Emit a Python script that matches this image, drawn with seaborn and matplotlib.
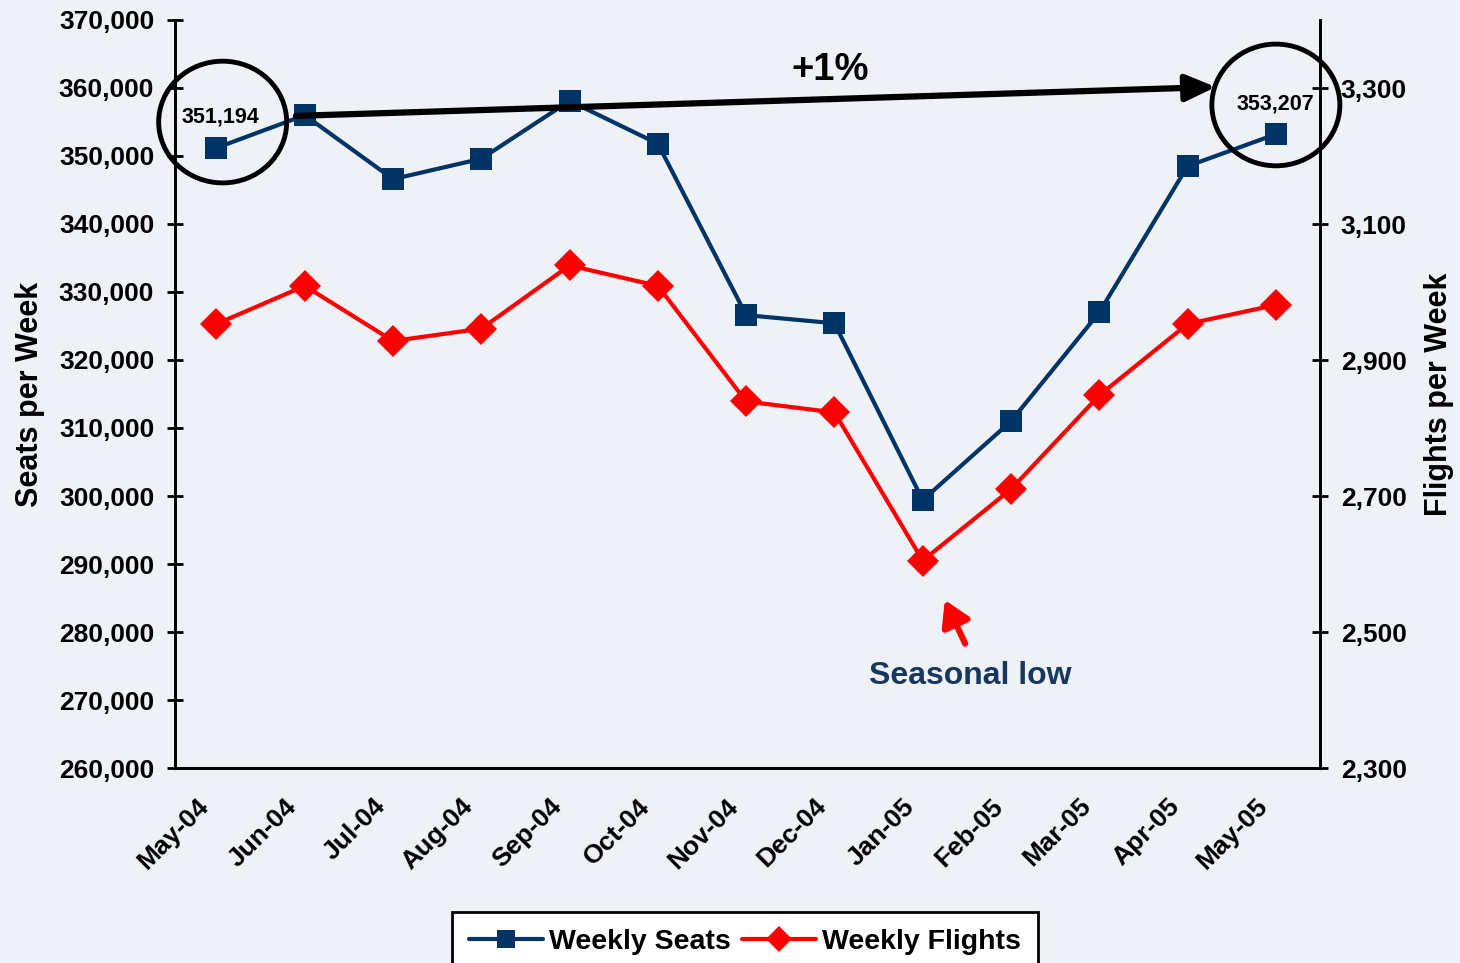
import numpy as np
import pandas as pd
import matplotlib.pyplot as plt
import seaborn as sns
from matplotlib.patches import Ellipse
from matplotlib.ticker import FuncFormatter, MultipleLocator
from matplotlib.transforms import ScaledTranslation

months = ['May-04', 'Jun-04', 'Jul-04', 'Aug-04', 'Sep-04', 'Oct-04', 'Nov-04',
          'Dec-04', 'Jan-05', 'Feb-05', 'Mar-05', 'Apr-05', 'May-05']
seats = [351194, 356000, 346600, 349600, 358100, 351800, 326600,
         325400, 299400, 311000, 327000, 348500, 353207]
flights = [2953, 3009, 2928, 2946, 3039, 3009, 2839,
           2823, 2605, 2710, 2848, 2953, 2981]
seat_ticks = list(range(260000, 370001, 10000))
flight_ticks = list(range(2300, 3301, 200))
change_label = '+1%'

df = pd.DataFrame({'pos': np.arange(len(months)), 'month': months,
                   'seats': seats, 'flights': flights})

sns.set_style('white')
plt.rcParams['font.family'] = ['Liberation Sans', 'DejaVu Sans']
plt.rcParams['font.weight'] = 'bold'
for k in ('text.color', 'axes.labelcolor', 'xtick.color', 'ytick.color'):
    plt.rcParams[k] = 'black'

navy = '#003366'
red = '#ff0000'

fig = plt.figure(figsize=(14.6, 9.63), dpi=100, facecolor='#eef1f5')
ax = fig.add_axes([175/1460, 1-768/963, (1320-175)/1460, (768-20)/963])
ax.set_facecolor('none')
ax2 = ax.twinx()

sns.lineplot(data=df, x='pos', y='seats', ax=ax, color=navy, lw=3,
             marker='s', markersize=16, markeredgewidth=0, label='Weekly Seats',
             legend=False)
sns.lineplot(data=df, x='pos', y='flights', ax=ax2, color=red, lw=3,
             marker='D', markersize=16, markeredgewidth=0, label='Weekly Flights',
             legend=False)

ax.set_xlim(-0.47, 12.5)
ax.set_ylim(seat_ticks[0], seat_ticks[-1])
ax2.set_ylim(flight_ticks[0], flight_ticks[0] + 1100)
ax.set_yticks(seat_ticks)
ax2.set_yticks(flight_ticks)
ax.yaxis.set_major_formatter(FuncFormatter(lambda v, p: f'{v:,.0f}'))
ax2.yaxis.set_major_formatter(FuncFormatter(lambda v, p: f'{v:,.0f}'))

ax.set_xticks(df['pos'])
ax.xaxis.set_minor_locator(MultipleLocator(1, offset=0.53))
ax.tick_params(axis='x', which='major', length=0, pad=22)
ax.tick_params(axis='x', which='minor', direction='inout', length=12, width=2)
ax.tick_params(axis='y', direction='inout', length=12, width=2, labelsize=19, pad=9)
ax2.tick_params(axis='y', direction='inout', length=12, width=2, labelsize=19, pad=9)
ax.set_xticklabels(months, rotation=45, ha='right', va='center',
                   rotation_mode='anchor', fontsize=19, fontweight='bold')
shift = ScaledTranslation(-0.12, -0.04, fig.dpi_scale_trans)
for t in ax.get_xticklabels():
    t.set_transform(t.get_transform() + shift)
for t in ax.get_yticklabels() + ax2.get_yticklabels():
    t.set_fontweight('bold')

for a in (ax, ax2):
    a.spines['top'].set_visible(False)
    for s in ('left', 'right', 'bottom'):
        a.spines[s].set_linewidth(2)
        a.spines[s].set_color('black')
ax.set_xlabel('')
ax.set_ylabel('Seats per Week', fontsize=22, fontweight='bold', labelpad=10)
ax2.set_ylabel('Flights per Week', fontsize=22, fontweight='bold', labelpad=12)

# circles and value labels on the first and last months
for i, dy_circ, dy_lab in [(0, 3800, 4540), (12, 4300, 4440)]:
    ax.add_patch(Ellipse((i + 0.07 * (i == 0), seats[i] + dy_circ), 1.45, 17900,
                         fill=False, lw=3.5, color='black', zorder=5, clip_on=False))
    ax.text(i + 0.05 * (i == 0), seats[i] + dy_lab, f'{seats[i]:,}', ha='center',
            va='center', fontsize=15.5, fontweight='bold')

# +1% arrow
ax.annotate('', xy=(11.32, 360150), xytext=(0.9, 355900),
            arrowprops=dict(arrowstyle='-|>,head_length=1.8,head_width=0.8',
                            lw=4.5, color='black', shrinkA=0, shrinkB=0), zorder=6)
ax.text(6.95, 362600, change_label, ha='center', va='center', fontsize=27.5,
        fontweight='bold')

# seasonal low
ax2.annotate('', xy=(8.25, 2547), xytext=(8.48, 2483),
             arrowprops=dict(arrowstyle='-|>,head_length=1.5,head_width=0.9',
                             lw=4.5, color=red, shrinkA=0, shrinkB=0))
ax2.text(8.54, 2436, 'Seasonal low', ha='center', va='center', fontsize=23,
         fontweight='bold', color='#17375e')

h1, l1 = ax.get_legend_handles_labels()
h2, l2 = ax2.get_legend_handles_labels()
leg = fig.legend(h1 + h2, l1 + l2, loc='upper center',
                 bbox_to_anchor=(745/1460, 1-912/963), borderaxespad=0,
                 ncol=2, frameon=True, fancybox=False, edgecolor='black',
                 framealpha=1, handlelength=2.6, columnspacing=0.4,
                 handletextpad=0.2, borderpad=0.6, markerscale=0.8,
                 prop={'weight': 'bold', 'size': 20.5})
leg.get_frame().set_linewidth(2)

fig.savefig('out.png', dpi=100, facecolor=fig.get_facecolor())
